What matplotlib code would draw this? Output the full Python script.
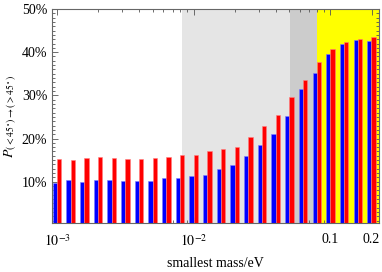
import numpy as np
import matplotlib
matplotlib.use("Agg")
import matplotlib.pyplot as plt
from matplotlib.ticker import FixedLocator, NullFormatter, FixedFormatter

plt.rcParams['font.family'] = ['Liberation Serif', 'DejaVu Serif']
plt.rcParams['mathtext.fontset'] = 'stix'

# log10 of smallest mass (eV) for each bar pair
log_mass = [-3.0 + 0.1 * k for k in range(24)]
blue_vals = [9.6, 10.3, 9.9, 10.4, 10.5, 10.2, 10.1, 10.2, 10.9, 10.9, 11.25, 11.6,
             12.9, 13.8, 16.0, 18.5, 21.0, 25.2, 31.5, 35.1, 39.5, 41.9, 42.75, 42.7]
red_vals = [15.3, 15.0, 15.4, 15.8, 15.5, 15.25, 15.3, 15.55, 15.7, 16.2, 16.2, 17.2,
            17.5, 18.0, 20.4, 23.0, 25.45, 29.7, 33.6, 37.7, 40.7, 42.4, 43.1, 43.5]

# shaded mass regions (eV)
light_region = (0.00817, 0.0508)
dark_region = (0.0508, 0.0802)
yellow_region = (0.0802, 0.2267)

xticks = [1e-3, 1e-2, 0.1, 0.2]
xticklabels = [r'$10^{-3}$', r'$10^{-2}$', '0.1', '0.2']
yticks = [10, 20, 30, 40, 50]
yticklabels = ['10%', '20%', '30%', '40%', '50%']

fig = plt.figure(figsize=(3.82, 2.72), dpi=100)
ax = fig.add_axes([52/382, 1-223.3/272, (379-52)/382, (223.3-9)/272])

xmin, xmax = 10**-3.0366, 0.2267
ax.set_xscale('log')
ax.set_xlim(xmin, xmax)
ax.set_ylim(0.37, 50)

ax.axvspan(*light_region, color='#e5e5e5', lw=0, zorder=0)
ax.axvspan(*dark_region, color='#cccccc', lw=0, zorder=0)
ax.axvspan(*yellow_region, color='#ffff00', lw=0, zorder=0)

w = 0.031  # bar width in decades
lm = np.array(log_mass)
left_b = 10**(lm - w)
right_b = 10**lm
right_r = 10**(lm + w)
ax.bar(left_b, blue_vals, width=right_b - left_b, align='edge', color='#0000ff',
       edgecolor='#8080ff', linewidth=0.4, zorder=2)
ax.bar(right_b, red_vals, width=right_r - right_b, align='edge', color='#ff0000',
       edgecolor='#ff8080', linewidth=0.4, zorder=2)

# ticks
ax.xaxis.set_major_locator(FixedLocator(xticks))
ax.xaxis.set_major_formatter(FixedFormatter(xticklabels))
minor = [m * 10.0**e for e in (-3, -2, -1) for m in range(1, 10)]
minor = [v for v in minor if xmin <= v <= xmax and v not in xticks]
ax.xaxis.set_minor_locator(FixedLocator(minor))
ax.xaxis.set_minor_formatter(NullFormatter())
ax.yaxis.set_major_locator(FixedLocator(yticks))
ax.yaxis.set_major_formatter(FixedFormatter(yticklabels))
ax.yaxis.set_minor_locator(FixedLocator([v for v in range(1, 50) if v % 10]))

ax.tick_params(which='both', direction='in', top=True, right=True, colors='#555555',
               labelcolor='black', labelsize=10, width=0.6)
ax.tick_params(which='major', length=4)
ax.tick_params(which='minor', length=2)
ax.tick_params(axis='x', which='major', pad=7)
for s in ax.spines.values():
    s.set_color('#666666')
    s.set_linewidth(0.8)

ax.set_xlabel('smallest mass/eV', fontsize=10, labelpad=6)
ax.set_ylabel(r'$P_{(<45^\circ)\to(>45^\circ)}$', fontsize=10, labelpad=2)

fig.savefig('out.png', dpi=100)
